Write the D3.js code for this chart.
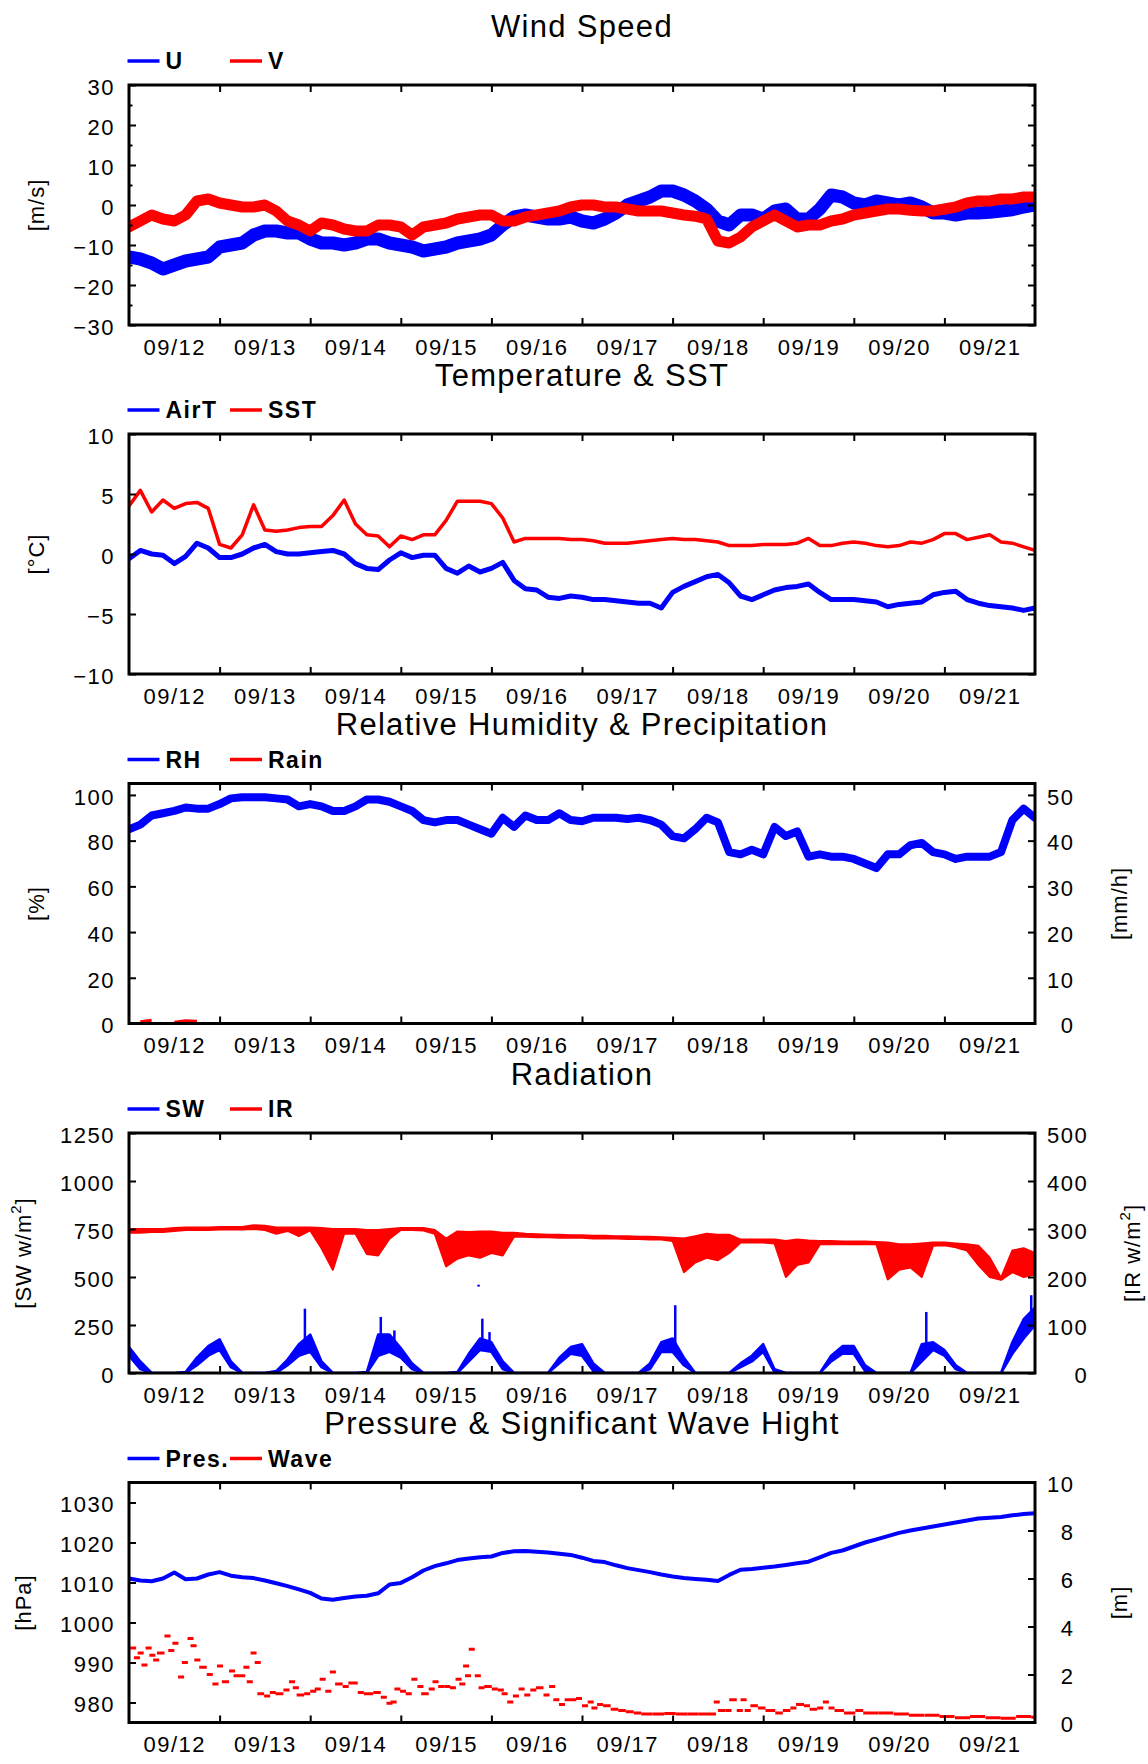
<!DOCTYPE html>
<html><head><meta charset="utf-8">
<script src="https://cdn.jsdelivr.net/npm/d3@7"></script>
<style>
body{margin:0;background:#fff;}
svg{display:block;font-family:"Liberation Sans",Arial,Helvetica,sans-serif;}
</style></head><body>
<svg id="c" width="1148" height="1764"></svg>
<script>
// ---------- DATA (3-hourly samples from 09/12 00:00 to 09/22 00:00) ----------
const dayLabels = ["09/12","09/13","09/14","09/15","09/16","09/17","09/18","09/19","09/20","09/21"];
const stepHours = 3;

const uWind = [-13,-13.5,-14.5,-16,-15,-14,-13.5,-13,-10.5,-10,-9.5,-7.5,-6.5,-6.5,-7,-7,-8.5,-9.5,-9.5,-10,-9.5,-8.5,-8.5,-9.5,-10,-10.5,-11.5,-11,-10.5,-9.5,-9,-8.5,-7.5,-5,-3,-2.5,-3,-3.5,-3.5,-3,-4,-4.5,-3.5,-2,0,1,2,3.5,3.5,2.5,1,-1,-4,-5,-2.5,-2.5,-3.5,-1.5,-1,-3.5,-3.5,-1,2.5,2,0.5,0,1,0.5,0,0.5,-0.5,-2,-2,-2.5,-2,-2,-1.8,-1.5,-1.2,-0.5,0];
const vWind = [-5.5,-4,-2.5,-3.5,-4,-2.5,1,1.5,0.5,0,-0.5,-0.5,0,-1.5,-4,-5,-6.5,-4.5,-5,-6,-6.5,-6.5,-5,-5,-5.5,-7.5,-5.5,-5,-4.5,-3.5,-3,-2.5,-2.5,-4,-4,-3,-2.5,-2,-1.5,-0.5,0,0,-0.5,-0.5,-1,-1.5,-1.5,-1.5,-2,-2.5,-2.8,-3.5,-9,-9.5,-8,-5.5,-4,-2.5,-4,-5.5,-5,-5,-4,-3.5,-2.5,-2,-1.5,-1,-1,-1.3,-1.5,-1.5,-1,-0.5,0.5,1,1,1.5,1.5,2,2];

const airT = [-0.4,0.3,0,-0.1,-0.8,-0.2,0.9,0.5,-0.3,-0.3,0,0.5,0.8,0.2,0,0,0.1,0.2,0.3,0,-0.8,-1.2,-1.3,-0.5,0.1,-0.3,-0.1,-0.1,-1.2,-1.6,-1,-1.5,-1.2,-0.7,-2.2,-2.9,-3,-3.6,-3.7,-3.5,-3.6,-3.8,-3.8,-3.9,-4,-4.1,-4.1,-4.5,-3.2,-2.7,-2.3,-1.9,-1.7,-2.4,-3.5,-3.8,-3.4,-3,-2.8,-2.7,-2.5,-3.2,-3.8,-3.8,-3.8,-3.9,-4,-4.4,-4.2,-4.1,-4,-3.4,-3.2,-3.1,-3.8,-4.1,-4.3,-4.4,-4.5,-4.7,-4.5];
const sst = [4.0,5.3,3.5,4.5,3.8,4.2,4.3,3.8,0.8,0.5,1.6,4.1,2.0,1.9,2.0,2.2,2.3,2.3,3.2,4.5,2.5,1.6,1.5,0.6,1.5,1.2,1.6,1.6,2.8,4.4,4.4,4.4,4.2,3.0,1.0,1.3,1.3,1.3,1.3,1.2,1.2,1.1,0.9,0.9,0.9,1.0,1.1,1.2,1.3,1.2,1.2,1.1,1.0,0.7,0.7,0.7,0.8,0.8,0.8,0.9,1.3,0.7,0.7,0.9,1.0,0.9,0.7,0.6,0.7,1.0,0.9,1.2,1.7,1.7,1.2,1.4,1.6,1.0,0.9,0.6,0.3];

const rh = [85,87,91,92,93,94.5,94,94,96,98.5,99,99,99,98.5,98,95,96,95,93,93,95,98,98,97,95,93,89,88,89,89,87,85,83,90,86,91,89,89,92,89,88.5,90,90,90,89.5,90,89,87,82,81,85,90,88,75,74,76,74,86,82,84,73,74,73,73,72,70,68,74,74,78,79,75,74,72,73,73,73,75,89,94,90];
const rain = [0,0.4,0.7,0,0.3,0.6,0.5,0,0,0,0,0,0,0,0,0,0,0,0,0,0,0,0,0,0,0,0,0,0,0,0,0,0,0,0,0,0,0,0,0,0,0,0,0,0,0,0,0,0,0,0,0,0,0,0,0,0,0,0,0,0,0,0,0,0,0,0,0,0,0,0,0,0,0,0,0,0,0,0,0,0];

const swLow = [90,20,0,0,0,0,40,90,120,30,0,0,0,0,40,90,110,30,0,0,0,0,90,110,80,20,0,0,0,0,60,120,110,20,0,0,0,0,50,100,90,10,0,0,0,0,20,110,110,40,0,0,0,0,30,60,110,5,0,0,0,0,60,100,100,10,0,0,0,0,60,120,90,20,0,0,0,0,100,180,250];
const swHigh = [135,60,0,0,0,5,80,140,175,60,0,0,0,10,70,150,200,60,0,0,0,5,200,200,130,50,0,0,0,5,100,180,160,60,0,0,0,0,80,135,150,50,0,0,0,0,50,160,180,80,0,0,0,0,50,90,150,20,0,0,0,0,90,140,140,40,0,0,0,0,150,160,120,40,0,0,0,0,160,280,340];
const swSpikeHours = [46.6,66.7,70.3,92.6,93.6,95.5,144.7,211.2,239];
const swSpikeLow  = [150,180,160,450,170,150,140,150,300];
const swSpikeHigh = [335,292,222,460,283,213,353,318,405];
const irLow = [292,292,294,294,296,298,298,298,299,299,299,300,298,290,296,285,297,260,215,290,290,248,245,280,298,298,297,290,222,238,245,240,250,245,284,284,283,283,282,282,282,280,280,280,279,279,278,278,275,210,230,240,235,250,272,272,272,270,200,225,230,268,268,268,268,268,268,195,215,220,200,265,266,262,255,225,200,194,210,200,205];
const irHigh = [300,300,300,300,302,303,303,303,304,304,304,308,307,303,303,303,303,302,300,300,300,298,298,300,302,302,302,298,280,295,294,295,295,292,292,290,289,288,288,287,287,286,286,285,285,284,284,283,282,280,285,290,288,288,278,278,278,278,275,278,276,275,275,274,274,274,273,272,268,268,270,272,272,270,268,265,240,198,255,260,250];

const pres = [1011,1010.5,1010.3,1011,1012.5,1010.8,1011,1012,1012.6,1011.7,1011.3,1011.1,1010.5,1009.8,1009.1,1008.3,1007.4,1006,1005.7,1006.1,1006.5,1006.7,1007.3,1009.5,1009.9,1011.3,1013,1014.1,1014.8,1015.6,1016,1016.3,1016.5,1017.4,1017.8,1017.9,1017.7,1017.5,1017.2,1016.9,1016.2,1015.4,1015.1,1014.3,1013.6,1013.1,1012.6,1012,1011.5,1011.1,1010.9,1010.7,1010.4,1011.9,1013.2,1013.4,1013.7,1014,1014.4,1014.8,1015.2,1016.3,1017.4,1018,1019,1020,1020.8,1021.6,1022.4,1023,1023.5,1024,1024.5,1025,1025.5,1026,1026.2,1026.4,1026.8,1027.1,1027.3];
const waveHours = [0.3,1.3,2.3,3.3,4.4,5.4,6.4,7.4,9.4,10.4,11.5,13.0,14.0,15.5,16.3,17.3,18.6,20.6,22.1,23.3,24.6,26.5,27.7,29.2,30.3,31.2,32.2,33.3,34.0,35.8,37.3,38.8,40.9,42.4,43.4,44.4,46.4,48.0,49.2,50.5,52.0,53.2,54.6,56.6,58.1,60.6,62.2,64.7,66.7,68.2,69.3,70.3,71.8,73.3,74.8,76.4,77.4,79.4,80.4,81.9,83.5,85.0,86.5,87.5,88.5,89.0,90.0,91.6,92.6,94.1,96.1,97.7,98.7,100.2,101.7,103.2,104.7,106.3,107.8,109.8,111.3,112.4,113.9,115.4,116.9,118.4,120.0,121.5,122.5,124.0,125.6,127.6,129.6,131.6,133.7,135.7,138.7,141.8,144.8,147.9,150.9,153.9,154.9,156.0,158.0,159.0,161.0,162.0,163.1,164.6,166.6,168.6,171.2,173.2,175.2,176.7,178.8,180.3,182.3,183.8,185.3,186.9,189.4,192.4,194.5,198.5,202.6,206.6,210.7,214.7,218.8,222.8,226.9,230.9,235.0,239.0];
const waveM = [3.1,2.7,2.9,2.4,3.1,2.8,2.6,2.9,3.6,3.0,3.3,1.9,2.5,3.5,3.2,2.6,2.3,2.0,1.6,2.35,1.7,2.15,1.95,1.95,2.3,1.7,2.9,2.5,1.2,1.1,1.25,1.2,1.35,1.7,1.45,1.15,1.2,1.3,1.4,1.8,1.3,2.1,1.6,1.5,1.65,1.25,1.2,1.25,1.05,0.8,0.85,1.4,1.3,1.2,1.8,1.5,1.2,1.4,1.7,1.5,1.5,1.45,1.8,1.6,2.35,1.95,3.05,1.95,1.45,1.5,1.4,1.35,1.2,0.85,1.1,1.4,1.15,1.35,1.45,1.15,1.5,0.95,0.75,0.95,0.95,1.0,0.7,0.85,0.6,0.75,0.7,0.55,0.5,0.45,0.4,0.35,0.35,0.37,0.35,0.35,0.35,0.35,0.85,0.5,0.5,0.95,0.5,0.95,0.5,0.7,0.6,0.5,0.4,0.5,0.6,0.75,0.7,0.55,0.6,0.85,0.6,0.5,0.4,0.5,0.4,0.4,0.35,0.3,0.3,0.25,0.2,0.25,0.2,0.18,0.25,0.22];

const windTicks = [-30,-20,-10,0,10,20,30], windMinor = [-25,-15,-5,5,15,25];
const tempTicks = [-10,-5,0,5,10];
const rhTicks = [0,20,40,60,80,100], rainTicks = [0,10,20,30,40,50];
const swTicks = [0,250,500,750,1000,1250], irTicks = [0,100,200,300,400,500];
const presTicks = [980,990,1000,1010,1020,1030], waveTicks = [0,2,4,6,8,10];

// ---------- LAYOUT ----------
const L = 129, R = 1035, PH = 240;
const tops = [85, 434, 783.5, 1133, 1482.5];
const BLUE = "#0000ff", RED = "#ff0000";
const t0 = Date.UTC(2000, 8, 12);
const DAY = 864e5;
const x = d3.scaleUtc().domain([new Date(t0), new Date(t0 + 10 * DAY)]).range([L, R]);
const tAt = i => new Date(t0 + i * stepHours * 3600e3);
const tH = h => new Date(t0 + h * 3600e3);
const fmt = d3.format("d");
const svg = d3.select("#c");
svg.append("rect").attr("width", 1148).attr("height", 1764).attr("fill", "#fff");

function styleAxis(g) {
  g.select(".domain").remove();
  g.selectAll("line").attr("stroke", "#000").attr("stroke-width", 2);
  g.selectAll("text").attr("fill", "#000").attr("font-size", 22)
    .attr("font-family", null).style("letter-spacing", "1.5px");
  g.attr("font-family", null);
}

function panel(idx, cfg) {
  const top = tops[idx], bot = top + PH;
  const g = svg.append("g");
  const yL = d3.scaleLinear().domain(cfg.yDomain).range([bot, top]);
  const yR = cfg.y2Domain ? d3.scaleLinear().domain(cfg.y2Domain).range([bot, top]) : null;

  g.append("text").attr("x", (L + R) / 2).attr("y", top - 48.5).attr("text-anchor", "middle")
    .attr("font-size", 31).style("letter-spacing", "1.3px").text(cfg.title);

  const legX = [[127.5, 159.5, 165.5], [230, 262, 268]];
  cfg.legend.forEach((d, k) => {
    g.append("line").attr("x1", legX[k][0]).attr("x2", legX[k][1]).attr("y1", top - 24).attr("y2", top - 24)
      .attr("stroke", d.color).attr("stroke-width", 3.5);
    g.append("text").attr("x", legX[k][2]).attr("y", top - 16).attr("font-size", 23).attr("font-weight", "bold")
      .style("letter-spacing", "1.5px").text(d.name);
  });

  const cid = "clip" + idx;
  svg.append("clipPath").attr("id", cid).append("rect").attr("x", L).attr("y", top).attr("width", R - L).attr("height", PH);
  const dg = g.append("g").attr("clip-path", `url(#${cid})`);
  cfg.draw(dg, yL, yR);

  // left axis
  const la = g.append("g").attr("transform", `translate(${L},0)`)
    .call(d3.axisLeft(yL).tickValues(cfg.yTicks).tickFormat(fmt).tickSizeInner(-7).tickSizeOuter(0).tickPadding(14));
  styleAxis(la);
  la.selectAll("text").attr("dy", "0.42em");
  if (cfg.yMinor) {
    const lm = g.append("g").attr("transform", `translate(${L},0)`)
      .call(d3.axisLeft(yL).tickValues(cfg.yMinor).tickSizeInner(-3.5).tickSizeOuter(0).tickFormat(() => ""));
    styleAxis(lm);
    const rm = g.append("g").attr("transform", `translate(${R},0)`)
      .call(d3.axisRight(yL).tickValues(cfg.yMinor).tickSizeInner(-3.5).tickSizeOuter(0).tickFormat(() => ""));
    styleAxis(rm);
  }
  // right axis
  if (yR) {
    const ra = g.append("g").attr("transform", `translate(${R},0)`)
      .call(d3.axisRight(yR).tickValues(cfg.y2Ticks).tickFormat(fmt).tickSizeInner(-7).tickSizeOuter(0).tickPadding(12));
    styleAxis(ra);
    let mw = 0;
    ra.selectAll("text").each(function () { mw = Math.max(mw, this.getComputedTextLength()); });
    ra.selectAll("text").attr("dy", "0.42em").attr("text-anchor", "end").attr("x", 12 + mw);
  } else {
    const ra = g.append("g").attr("transform", `translate(${R},0)`)
      .call(d3.axisRight(yL).tickValues(cfg.yTicks).tickSizeInner(-7).tickSizeOuter(0).tickFormat(() => ""));
    styleAxis(ra);
  }
  // top & bottom ticks at day boundaries
  const days = d3.utcDay.range(new Date(t0 + DAY), new Date(t0 + 10 * DAY));
  const ta = g.append("g").attr("transform", `translate(0,${top})`)
    .call(d3.axisTop(x).tickValues(days).tickSizeInner(-7).tickSizeOuter(0).tickFormat(() => ""));
  styleAxis(ta);
  const ba = g.append("g").attr("transform", `translate(0,${bot})`)
    .call(d3.axisBottom(x).tickValues(days).tickSizeInner(-7).tickSizeOuter(0).tickFormat(() => ""));
  styleAxis(ba);
  // date labels centred at noon
  const noons = dayLabels.map((d, k) => new Date(t0 + (k + 0.5) * DAY));
  const lb = g.append("g").attr("transform", `translate(0,${bot})`)
    .call(d3.axisBottom(x).tickValues(noons).tickSize(0).tickPadding(14).tickFormat((d, k) => dayLabels[k]));
  styleAxis(lb);

  // axis titles
  const yt = g.append("text").attr("transform", `translate(${cfg.yLabelX},${(top + bot) / 2}) rotate(-90)`)
    .attr("text-anchor", "middle").attr("dominant-baseline", "central").attr("font-size", 22).style("letter-spacing", "1px");
  cfg.yLabel(yt);
  if (cfg.y2Label) {
    const yt2 = g.append("text").attr("transform", `translate(${cfg.y2LabelX},${(top + bot) / 2}) rotate(-90)`)
      .attr("text-anchor", "middle").attr("dominant-baseline", "central").attr("font-size", 22).style("letter-spacing", "1px");
    cfg.y2Label(yt2);
  }

  // frame
  g.append("rect").attr("x", L).attr("y", top).attr("width", R - L).attr("height", PH)
    .attr("fill", "none").attr("stroke", "#000").attr("stroke-width", 3);
}

function series(dg, arr, y, color, w) {
  dg.append("path").datum(arr)
    .attr("d", d3.line().x((d, i) => x(tAt(i))).y(d => y(d)))
    .attr("fill", "none").attr("stroke", color).attr("stroke-width", w)
    .attr("stroke-linejoin", "round").attr("stroke-linecap", "round");
}
function band(dg, lo, hi, y, color, w) {
  dg.append("path").datum(lo)
    .attr("d", d3.area().x((d, i) => x(tAt(i))).y0(d => y(d)).y1((d, i) => y(hi[i])))
    .attr("fill", color).attr("stroke", color).attr("stroke-width", w).attr("stroke-linejoin", "round");
}
function superLabel(txt, sup, end) {
  return t => {
    t.append("tspan").text(txt);
    t.append("tspan").attr("dy", -8).attr("font-size", 15).text(sup);
    t.append("tspan").attr("dy", 8).text(end);
  };
}

panel(0, {
  title: "Wind Speed",
  legend: [{ name: "U", color: BLUE }, { name: "V", color: RED }],
  yDomain: [-30, 30], yTicks: windTicks, yMinor: windMinor,
  yLabelX: 36.5, yLabel: t => t.text("[m/s]"),
  draw: (dg, y) => { series(dg, uWind, y, BLUE, 13); series(dg, vWind, y, RED, 11); }
});

panel(1, {
  title: "Temperature & SST",
  legend: [{ name: "AirT", color: BLUE }, { name: "SST", color: RED }],
  yDomain: [-10, 10], yTicks: tempTicks,
  yLabelX: 36.5, yLabel: t => t.text("[°C]"),
  draw: (dg, y) => { series(dg, airT, y, BLUE, 5); series(dg, sst, y, RED, 3.5); }
});

panel(2, {
  title: "Relative Humidity & Precipitation",
  legend: [{ name: "RH", color: BLUE }, { name: "Rain", color: RED }],
  yDomain: [0, 105], yTicks: rhTicks, y2Domain: [0, 52.5], y2Ticks: rainTicks,
  yLabelX: 36.5, yLabel: t => t.text("[%]"),
  y2LabelX: 1119, y2Label: t => t.text("[mm/h]"),
  draw: (dg, y, y2) => {
    series(dg, rh, y, BLUE, 8);
    dg.append("path").datum(rain)
      .attr("d", d3.line().defined(d => d > 0).x((d, i) => x(tAt(i))).y(d => y2(d)))
      .attr("fill", "none").attr("stroke", RED).attr("stroke-width", 3);
  }
});

panel(3, {
  title: "Radiation",
  legend: [{ name: "SW", color: BLUE }, { name: "IR", color: RED }],
  yDomain: [0, 1250], yTicks: swTicks, y2Domain: [0, 500], y2Ticks: irTicks,
  yLabelX: 23, yLabel: superLabel("[SW w/m", "2", "]"),
  y2LabelX: 1132, y2Label: superLabel("[IR w/m", "2", "]"),
  draw: (dg, y, y2) => {
    band(dg, swLow, swHigh, y, BLUE, 2.5);
    dg.selectAll("line.sp").data(swSpikeHours).join("line").attr("class", "sp")
      .attr("x1", d => x(tH(d))).attr("x2", d => x(tH(d)))
      .attr("y1", (d, i) => y(swSpikeLow[i])).attr("y2", (d, i) => y(swSpikeHigh[i]))
      .attr("stroke", BLUE).attr("stroke-width", 2.5);
    band(dg, irLow, irHigh, y2, RED, 2);
  }
});

panel(4, {
  title: "Pressure & Significant Wave Hight",
  legend: [{ name: "Pres.", color: BLUE }, { name: "Wave", color: RED }],
  yDomain: [975, 1035], yTicks: presTicks, y2Domain: [0, 10], y2Ticks: waveTicks,
  yLabelX: 23, yLabel: t => t.text("[hPa]"),
  y2LabelX: 1119, y2Label: t => t.text("[m]"),
  draw: (dg, y, y2) => {
    series(dg, pres, y, BLUE, 4);
    dg.selectAll("line.wv").data(waveHours).join("line").attr("class", "wv")
      .attr("x1", d => x(tH(d)))
      .attr("x2", (d, i) => {
        const nxt = i < waveHours.length - 1 ? waveHours[i + 1] - d : 1.6;
        return x(tH(d + Math.min(Math.max(nxt, 1.6), 4)));
      })
      .attr("y1", (d, i) => y2(waveM[i])).attr("y2", (d, i) => y2(waveM[i]))
      .attr("stroke", RED).attr("stroke-width", 3);
  }
});
</script></body></html>
